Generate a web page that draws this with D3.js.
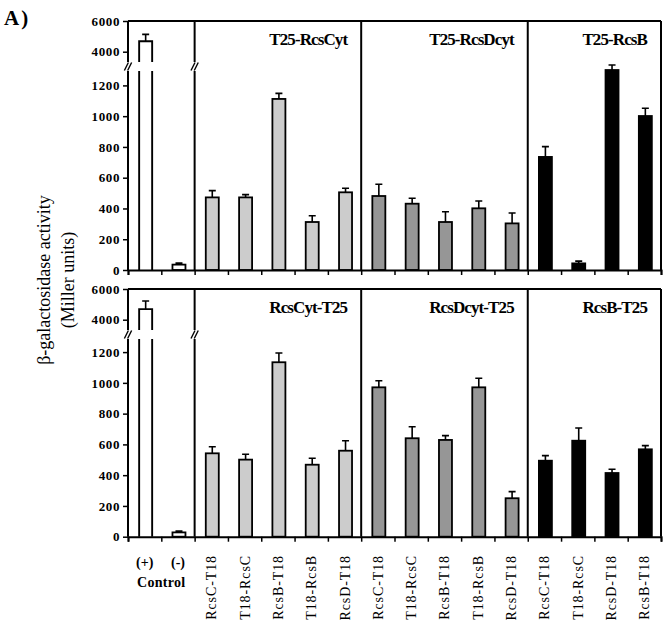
<!DOCTYPE html>
<html><head><meta charset="utf-8">
<script src="https://cdn.jsdelivr.net/npm/d3@7/dist/d3.min.js"></script>
<style>body{margin:0;background:#fff}svg{display:block}</style>
</head><body>
<script>
// ---- data ----
const categories = ["(+)", "(-)", "RcsC-T18", "T18-RcsC", "RcsB-T18", "T18-RcsB", "RcsD-T18",
  "RcsC-T18", "T18-RcsC", "RcsB-T18", "T18-RcsB", "RcsD-T18",
  "RcsC-T18", "T18-RcsC", "RcsD-T18", "RcsB-T18"];
const categoryGroup = [0,0,1,1,1,1,1,2,2,2,2,2,3,3,3,3];
const groupFills = ["#ffffff", "#cccccc", "#969696", "#000000"];
const topTitles = ["T25-RcsCyt", "T25-RcsDcyt", "T25-RcsB"];
const bottomTitles = ["RcsCyt-T25", "RcsDcyt-T25", "RcsB-T25"];
const topValues   = [4680, 35, 472, 472, 1112, 312, 505, 481, 431, 312, 401, 303, 735, 43, 1300, 1001];
const topErrors   = [450, 10, 44, 18, 36, 41, 26, 76, 35, 67, 48, 68, 67, 15, 33, 50];
const bottomValues = [4690, 28, 542, 501, 1134, 468, 559, 971, 640, 629, 971, 250, 494, 624, 414, 568];
const bottomErrors = [530, 8, 43, 35, 60, 42, 65, 43, 75, 28, 59, 43, 33, 83, 24, 24];
const lowTicks = [0, 200, 400, 600, 800, 1000, 1200];
const highTicks = [4000, 6000];
const controlLabel = "Control";
const yTitle1 = "β-galactosidase activity";
const yTitle2 = "(Miller units)";
const panelLetter = "A)";

// ---- layout ----
const W = 667, H = 620;
const left = 128, right = 661;
const panels = [
  {top: 21, zero: 270, values: topValues, errors: topErrors, titles: topTitles},
  {top: 289, zero: 536.7, values: bottomValues, errors: bottomErrors, titles: bottomTitles}
];
const serif = "'Liberation Serif','Times New Roman',serif";

const svg = d3.select("body").append("svg").attr("width", W).attr("height", H);

const x = d3.scaleBand().domain(d3.range(categories.length)).range([left, right]).padding(0);
const xb = d3.scaleLinear().domain([0, categories.length]).range([left, right]);
const barW = 13;
const groupBounds = [0, 2, 7, 12, 16];

panels.forEach(p => {
  const g = svg.append("g");
  const low = d3.scaleLinear().domain([0, 1200]).range([p.zero, p.zero - 184.6]);
  const high = d3.scaleLinear().domain([4000, 6000]).range([p.top + 30.7, p.top]);
  const gapTop = p.top + 41, gapBot = p.top + 50;

  // bars
  categories.forEach((c, i) => {
    const v = p.values[i], e = p.errors[i];
    const cx = x(i) + x.bandwidth() / 2 + 1;
    const x0 = cx - barW / 2, x1 = cx + barW / 2;
    const fill = groupFills[categoryGroup[i]];
    if (v > 1200 && categoryGroup[i] === 0) {
      const yv = high(v);
      g.append("rect").attr("x", x0).attr("y", yv).attr("width", barW).attr("height", p.zero - yv)
        .attr("fill", fill);
      g.append("rect").attr("x", x0 - 2).attr("y", gapTop).attr("width", barW + 4).attr("height", gapBot - gapTop).attr("fill", "#fff");
      const path = `M${x0},${p.zero}L${x0},${gapBot}M${x0},${gapTop}L${x0},${yv}L${x1},${yv}L${x1},${gapTop}M${x1},${gapBot}L${x1},${p.zero}`;
      g.append("path").attr("d", path).attr("fill", "none").attr("stroke", "#000").attr("stroke-width", 1.9);
      const ye = high(v + e);
      g.append("path").attr("d", `M${cx},${yv}L${cx},${ye}M${cx-3.5},${ye}L${cx+3.5},${ye}`)
        .attr("stroke", "#000").attr("stroke-width", 1.6).attr("fill", "none");
    } else {
      const yv = low(v);
      g.append("rect").attr("x", x0).attr("y", yv).attr("width", barW).attr("height", p.zero - yv)
        .attr("fill", fill).attr("stroke", "#000").attr("stroke-width", 1.8);
      const ye = low(v + e);
      g.append("path").attr("d", `M${cx},${yv}L${cx},${ye}M${cx-3.5},${ye}L${cx+3.5},${ye}`)
        .attr("stroke", "#000").attr("stroke-width", 1.6).attr("fill", "none");
    }
  });

  // frame: top, right, dividers
  g.append("line").attr("x1", left).attr("x2", right).attr("y1", p.top).attr("y2", p.top)
    .attr("stroke", "#000").attr("stroke-width", 2);
  groupBounds.forEach((b, k) => {
    const bx = xb(b);
    if (k <= 1) {
      g.append("line").attr("x1", bx).attr("x2", bx).attr("y1", p.top).attr("y2", gapTop)
        .attr("stroke", "#000").attr("stroke-width", 2);
      g.append("line").attr("x1", bx).attr("x2", bx).attr("y1", gapBot).attr("y2", p.zero)
        .attr("stroke", "#000").attr("stroke-width", 2);
      // break marks
      [-1.6, 1.6].forEach(o => {
        g.append("line").attr("x1", bx + o - 2).attr("x2", bx + o + 2)
          .attr("y1", (gapTop + gapBot) / 2 + 4).attr("y2", (gapTop + gapBot) / 2 - 4)
          .attr("stroke", "#000").attr("stroke-width", 1.4);
      });
    } else {
      g.append("line").attr("x1", bx).attr("x2", bx).attr("y1", p.top).attr("y2", p.zero)
        .attr("stroke", "#000").attr("stroke-width", 2);
    }
  });

  // x axis (ticks at band boundaries)
  const xa = g.append("g").attr("transform", `translate(0,${p.zero})`)
    .call(d3.axisBottom(xb).tickValues(d3.range(categories.length + 1)).tickSize(5).tickFormat(""));
  xa.select(".domain").attr("stroke-width", 2);
  xa.selectAll(".tick line").attr("stroke-width", 1.5);

  // y axes
  [[low, lowTicks], [high, highTicks]].forEach(([s, tv]) => {
    const ya = g.append("g").attr("transform", `translate(${left},0)`)
      .call(d3.axisLeft(s).tickValues(tv).tickSize(5).tickPadding(3).tickFormat(d3.format("d")));
    ya.select(".domain").remove();
    ya.selectAll(".tick line").attr("stroke-width", 1.5);
    ya.selectAll(".tick text").attr("font-family", serif).attr("font-weight", "bold")
      .attr("font-size", 13).attr("letter-spacing", 0.6).attr("fill", "#000");
  });

  // titles
  p.titles.forEach((t, k) => {
    g.append("text").attr("x", xb(groupBounds[k + 2]) - 14).attr("y", p.top + 24)
      .attr("text-anchor", "end").attr("font-family", serif).attr("font-weight", "bold")
      .attr("font-size", 17).attr("letter-spacing", -0.9).text(t);
  });
});

// x labels
const labY = 555;
categories.forEach((c, i) => {
  if (categoryGroup[i] === 0) return;
  const cx = x(i) + x.bandwidth() / 2 + 5;
  svg.append("text").attr("transform", `translate(${cx},${labY}) rotate(-90)`)
    .attr("text-anchor", "end").attr("font-family", serif).attr("font-size", 14)
    .attr("letter-spacing", 0.9).text(c);
});
[0, 1].forEach(i => {
  svg.append("text").attr("x", x(i) + x.bandwidth() / 2).attr("y", 567).attr("text-anchor", "middle")
    .attr("font-family", serif).attr("font-weight", "bold").attr("font-size", 14).text(categories[i]);
});
svg.append("text").attr("x", xb(1)).attr("y", 587).attr("text-anchor", "middle")
  .attr("font-family", serif).attr("font-weight", "bold").attr("font-size", 14).attr("letter-spacing", 0.3).text(controlLabel);

// y title
svg.append("text").attr("transform", "translate(50,280) rotate(-90)").attr("text-anchor", "middle")
  .attr("font-family", serif).attr("font-size", 18).text(yTitle1);
svg.append("text").attr("transform", "translate(74,280) rotate(-90)").attr("text-anchor", "middle")
  .attr("font-family", serif).attr("font-size", 18).text(yTitle2);

// panel letter
svg.append("text").attr("x", 4).attr("y", 25).attr("font-family", serif).attr("font-weight", "bold")
  .attr("font-size", 21).attr("letter-spacing", 2).text(panelLetter);
</script>
</body></html>
